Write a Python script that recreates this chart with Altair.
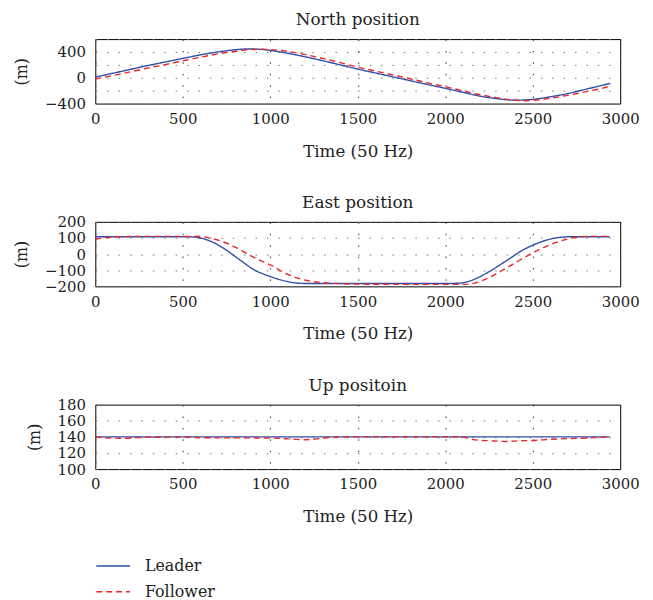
import altair as alt
import pandas as pd

# ---------------- data ----------------
t_north_leader = [0, 100, 200, 300, 400, 500, 600, 700, 800, 870, 950, 1000, 1100, 1200, 1300, 1400,
                  1500, 1600, 1700, 1800, 1900, 2000, 2100, 2200, 2300, 2400, 2500, 2600, 2700, 2800,
                  2900, 2943]
north_leader = [10, 70, 130, 190, 245, 300, 355, 400, 435, 447, 440, 425, 380, 325, 265, 200,
                135, 75, 15, -45, -105, -163, -225, -285, -325, -348, -335, -295, -245, -180,
                -115, -86]

t_north_follower = [0, 100, 200, 300, 400, 500, 600, 700, 800, 900, 950, 1000, 1100, 1200, 1300,
                    1400, 1500, 1600, 1700, 1800, 1900, 2000, 2100, 2200, 2300, 2400, 2450, 2500,
                    2600, 2700, 2800, 2900, 2943]
north_follower = [-20, 35, 92, 150, 205, 262, 318, 370, 412, 438, 442, 438, 408, 360, 300,
                  235, 165, 105, 45, -15, -78, -140, -200, -262, -312, -348, -356, -350,
                  -318, -272, -218, -160, -128]

t_east_leader = [0, 500, 550, 600, 650, 720, 815, 909, 1000, 1098, 1155, 1200, 1300, 2000, 2063,
                 2110, 2158, 2252, 2347, 2442, 2536, 2631, 2726, 2800, 2940]
east_leader = [108, 108, 107, 100, 84, 45, -27, -98, -139, -170, -180, -182, -182, -182, -181,
               -176, -160, -108, -43, 24, 71, 100, 108, 108, 108]

t_east_follower = [0, 50, 100, 150, 300, 600, 650, 720, 815, 909, 1000, 1098, 1192, 1287, 1400,
                   1475, 2000, 2101, 2158, 2252, 2347, 2442, 2536, 2631, 2726, 2820, 2940]
east_follower = [92, 100, 105, 108, 110, 109, 101, 80, 35, -22, -67, -125, -160, -176, -183,
                 -186, -188, -188, -182, -145, -88, -27, 28, 71, 100, 110, 110]

t_up_leader = [0, 1000, 2000, 2940]
up_leader = [140, 140, 140, 140]

t_up_follower = [0, 80, 160, 240, 320, 500, 600, 700, 860, 940, 1060, 1140, 1200, 1290, 1370,
                 1500, 2000, 2100, 2150, 2270, 2350, 2430, 2500, 2600, 2700, 2860, 2940]
up_follower = [140, 138.5, 138.3, 139, 139.5, 139.7, 139, 138.8, 138.8, 138.6, 138.2, 137,
               136.5, 138, 139.7, 140, 140, 139.8, 137, 135, 134.3, 135.2, 135.5, 137, 137.8,
               139, 140]

series_names = ["Leader", "Follower"]
series_colors = ["#2f4fa8", "#e8262c"]
series_dashes = [[1, 0], [6, 4]]

x_ticks = [0, 500, 1000, 1500, 2000, 2500, 3000]
north_ticks = [-400, -200, 0, 200, 400, 600]
east_ticks = [-200, -100, 0, 100, 200]
up_ticks = [100, 120, 140, 160, 180]


def frame(tl, vl, tf, vf):
    a = pd.DataFrame({"t": tl, "v": vl, "series": "Leader"})
    b = pd.DataFrame({"t": tf, "v": vf, "series": "Follower"})
    return pd.concat([a, b], ignore_index=True)


FONT = "DejaVu Serif"
TXT = "#222222"

legend = alt.Legend(
    title=None, orient="none", legendX=0, legendY=523, direction="vertical",
    symbolType="stroke", symbolSize=1156, symbolStrokeWidth=1.5, clipHeight=16,
    rowPadding=10, labelOffset=14, labelFont=FONT, labelFontSize=16, labelColor=TXT,
)


def panel(df, title, ydomain, yvalues, label_expr=None):
    yaxis_kwargs = dict(values=yvalues, title="(m)", grid=True, gridColor="#777777",
                        gridDash=[1.5, 10], ticks=False, domain=False, labelPadding=10,
                        format="d",
                        labelFont=FONT, labelFontSize=15, labelColor=TXT, labelOverlap=False,
                        titleFont=FONT, titleFontSize=16, titleFontWeight="normal",
                        titleColor=TXT, titlePadding=15)
    if label_expr is not None:
        yaxis_kwargs["labelExpr"] = label_expr
    return alt.Chart(df).mark_line(strokeWidth=1.4, interpolate="monotone", clip=True).encode(
        x=alt.X("t:Q", scale=alt.Scale(domain=[0, 3000], nice=False),
                axis=alt.Axis(values=x_ticks, format="d", title="Time (50 Hz)", grid=True,
                              gridColor="#333333", gridDash=[1.5, 10], ticks=False, domain=False,
                              labelPadding=8, labelFlush=False, labelFont=FONT, labelFontSize=15,
                              labelColor=TXT, titleFont=FONT, titleFontSize=16.8,
                              titleFontWeight="normal", titleColor=TXT, titlePadding=17)),
        y=alt.Y("v:Q", scale=alt.Scale(domain=ydomain, nice=False, zero=False),
                axis=alt.Axis(**yaxis_kwargs)),
        color=alt.Color("series:N", sort=series_names,
                        scale=alt.Scale(domain=series_names, range=series_colors), legend=legend),
        strokeDash=alt.StrokeDash("series:N", sort=series_names,
                                  scale=alt.Scale(domain=series_names, range=series_dashes),
                                  legend=legend),
    ).properties(width=529, height=65,
                 title=alt.TitleParams(title, font=FONT, fontSize=17, fontWeight="normal",
                                       color=TXT, offset=3))


north = panel(frame(t_north_leader, north_leader, t_north_follower, north_follower),
              "North position", [-400, 600], north_ticks,
              "(datum.value == 600 || datum.value % 400 != 0) ? '' : datum.label")
east = panel(frame(t_east_leader, east_leader, t_east_follower, east_follower),
             "East position", [-200, 200], east_ticks)
up = panel(frame(t_up_leader, up_leader, t_up_follower, up_follower),
           "Up positoin", [100, 180], up_ticks)

chart = alt.vconcat(north, east, up, spacing=32.2).configure_view(
    stroke="black", strokeWidth=1
).properties(background="white", padding={"top": 0, "left": 5, "right": 5, "bottom": 0})

chart.save("out.html", embed_options={"renderer": "svg", "actions": False})
